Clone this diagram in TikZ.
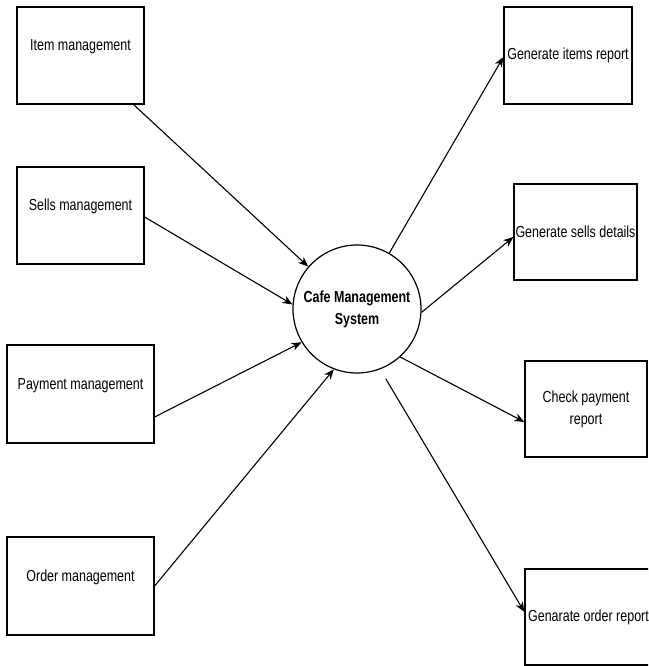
\documentclass[tikz,border=0pt]{standalone}
\usepackage{fontspec}
\setmainfont{Liberation Sans}[FakeStretch=0.78]
\usetikzlibrary{arrows.meta}
\begin{document}
\begin{tikzpicture}[x=1pt,y=-1pt,
  font=\fontsize{16}{22}\selectfont,
  every node/.style={line width=1.2pt},
  inbox/.style={draw, inner sep=0pt, text height=11pt, text depth=21pt},
  outbox/.style={draw, inner sep=0pt, align=center},
  hub/.style={draw, circle, minimum size=128pt, inner sep=0pt, align=center, font=\fontsize{16}{22}\selectfont\bfseries},
  flow/.style={line width=1.1pt, -{Stealth[length=10pt,width=8pt,inset=3pt]}}]
\useasboundingbox (0,0) rectangle (648,666);
\clip (0,0) rectangle (648,666);

% central process
\node[hub] (cms) at (357,309) {Cafe Management\\System};

% inputs on the left
\node[inbox, minimum width=127pt, minimum height=97pt] (item) at (80.5,55.5) {Item management};
\node[inbox, minimum width=127pt, minimum height=97pt] (sells) at (80.5,215.5) {Sells management};
\node[inbox, minimum width=147pt, minimum height=98pt] (payment) at (80.5,394) {Payment management};
\node[inbox, minimum width=147pt, minimum height=98pt] (order) at (80.5,586) {Order management};

% outputs on the right
\node[outbox, minimum width=128pt, minimum height=97pt] (itemsrep) at (568,55.5) {Generate items report};
\node[outbox, minimum width=123pt, minimum height=96pt] (sellsrep) at (575.5,232) {Generate sells details};
\node[outbox, minimum width=122pt, minimum height=96pt] (checkrep) at (586,409) {Check payment\\report};
\node[outbox, minimum width=127pt, minimum height=96pt] (orderrep) at (588.5,617) {Genarate order report};

% incoming flows
\draw[flow] ([xshift=-11pt]item.south east) -- (cms.139);
\draw[flow] ([yshift=-1.5pt]sells.east) -- (cms.176);
\draw[flow] ([yshift=-23pt]payment.east) -- (cms.211);
\draw[flow] (order.east) -- (cms.249);

% outgoing flows
\draw[flow] (cms.60) -- ([yshift=-1.5pt]itemsrep.west);
\draw[flow] (cms.-3) -- ([yshift=-5pt]sellsrep.west);
\draw[flow] (cms.-48) -- ([yshift=-13pt]checkrep.west);
\draw[flow, shorten <=11pt] (cms.-69) -- ([yshift=5pt]orderrep.west);
\end{tikzpicture}
\end{document}
